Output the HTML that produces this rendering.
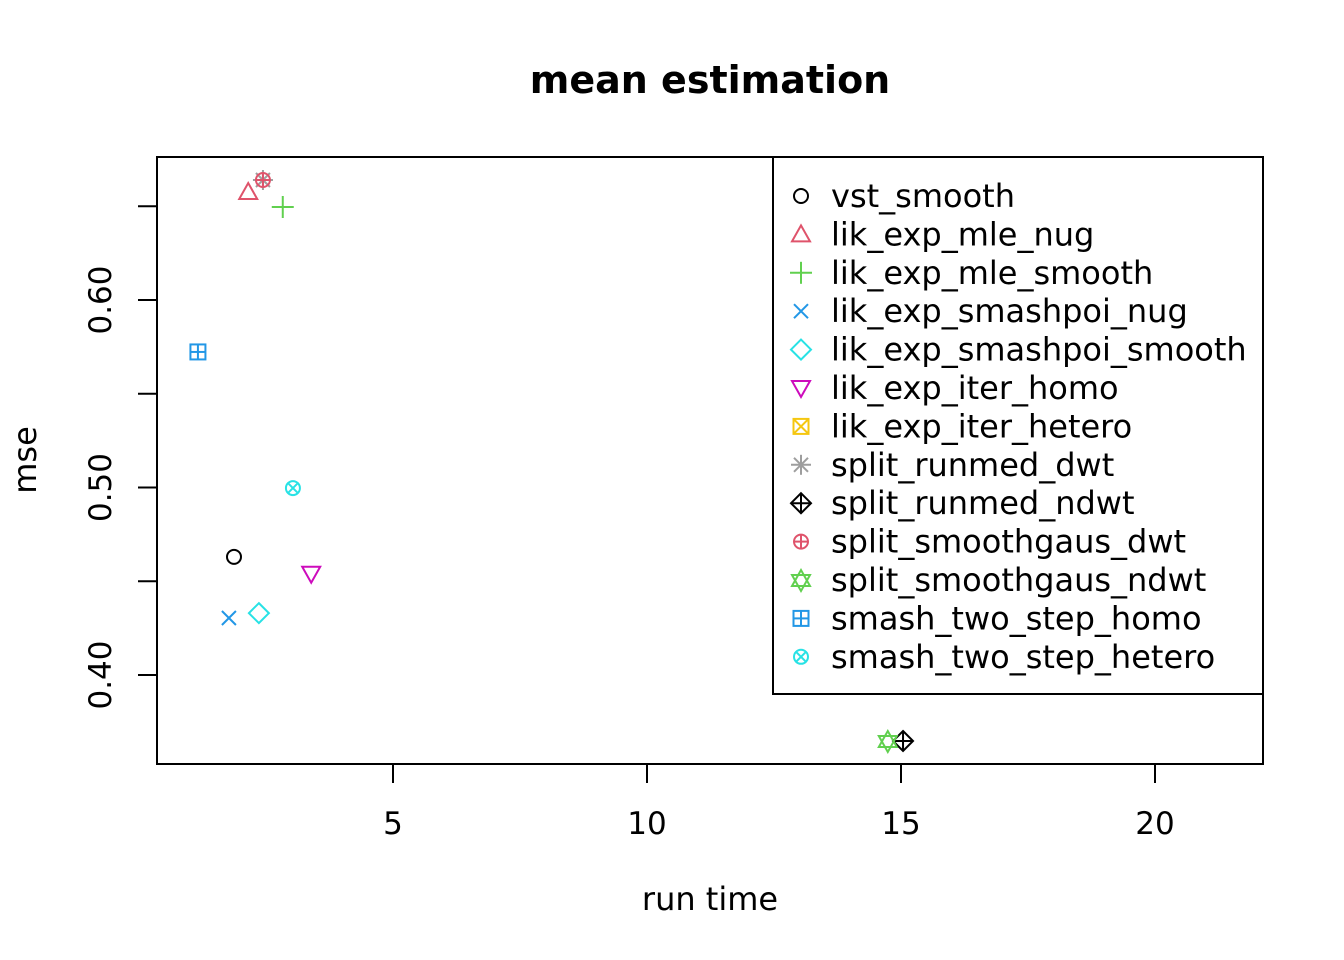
<!DOCTYPE html>
<html><head><meta charset="utf-8"><style>
body{margin:0;background:#fff}
svg{display:block;font-family:"DejaVu Sans","Liberation Sans",sans-serif}
</style></head><body>
<svg id="chart" width="1344" height="960" xmlns="http://www.w3.org/2000/svg">
<text x="710" y="93" text-anchor="middle" font-size="38" font-weight="bold">mean estimation</text>
<rect x="157" y="157" width="1106" height="607" fill="none" stroke="#000" stroke-width="2"/>
<g id="axes"></g>
<g id="pts"></g>
<g id="legend"></g>
<text x="710" y="910" text-anchor="middle" font-size="32">run time</text>
<text transform="translate(36,460) rotate(-90)" text-anchor="middle" font-size="32">mse</text>
</svg>
<script>
const methods=["vst_smooth","lik_exp_mle_nug","lik_exp_mle_smooth","lik_exp_smashpoi_nug","lik_exp_smashpoi_smooth","lik_exp_iter_homo","lik_exp_iter_hetero","split_runmed_dwt","split_runmed_ndwt","split_smoothgaus_dwt","split_smoothgaus_ndwt","smash_two_step_homo","smash_two_step_hetero"];
const runTime=[1.87,2.15,2.83,1.77,2.36,3.39,null,2.44,15.04,2.44,14.74,1.16,3.03];
const mse=[0.463,0.6576,0.6496,0.4304,0.433,0.454,null,0.664,0.3648,0.664,0.3648,0.5723,0.4997];
const colors=["#000000","#DF536B","#61D04F","#2297E6","#28E2E5","#CD0BBC","#F5C710","#9E9E9E","#000000","#DF536B","#61D04F","#2297E6","#28E2E5"];
const xTicks=[5,10,15,20];
const yTicks=[0.40,0.45,0.50,0.55,0.60,0.65];
const yLabels=["0.40","","0.50","","0.60",""];
const NS="http://www.w3.org/2000/svg";
const X=v=>139+v*50.8;
const Y=v=>300-(v-0.6)*1875;
function mk(tag,at,parent){const e=document.createElementNS(NS,tag);for(const k in at)e.setAttribute(k,at[k]);parent.appendChild(e);return e;}
const axes=document.getElementById('axes');
xTicks.forEach(t=>{
  const l=mk('line',{x1:X(t),x2:X(t),y1:764,y2:783,stroke:'#000','stroke-width':2},axes);
  
  
  const tx=mk('text',{x:X(t),y:834,'text-anchor':'middle','font-size':31},axes);tx.textContent=t;
  
  
});
yTicks.forEach((t,i)=>{
  const l=mk('line',{x1:138,x2:157,y1:Y(t),y2:Y(t),stroke:'#000','stroke-width':2},axes);
  
  
  if(yLabels[i]){const tx=mk('text',{transform:`translate(111,${Y(t)}) rotate(-90)`,'text-anchor':'middle','font-size':31},axes);tx.textContent=yLabels[i];
  
  }
});
function sym(i,cx,cy,parent){
  const g=mk('g',{fill:'none',stroke:colors[i],'stroke-width':2},parent);
  const r=7.5;
  const L=(a,b,c,d)=>mk('line',{x1:cx+a,y1:cy+b,x2:cx+c,y2:cy+d},g);
  switch(i){
    case 0:mk('circle',{cx,cy,r:7},g);break;
    case 1:mk('polygon',{points:`${cx-9},${cy+7} ${cx+9},${cy+7} ${cx},${cy-9}`},g);break;
    case 2:L(-11,0,11,0);L(0,-11,0,11);break;
    case 3:L(-7,-7,7,7);L(-7,7,7,-7);break;
    case 4:mk('polygon',{points:`${cx},${cy-10} ${cx+10},${cy} ${cx},${cy+10} ${cx-10},${cy}`},g);break;
    case 5:mk('polygon',{points:`${cx-9},${cy-7} ${cx+9},${cy-7} ${cx},${cy+9}`},g);break;
    case 6:mk('rect',{x:cx-r,y:cy-r,width:2*r,height:2*r},g);L(-r,-r,r,r);L(-r,r,r,-r);break;
    case 7:L(-10,0,10,0);L(0,-10,0,10);L(-7,-7,7,7);L(-7,7,7,-7);break;
    case 8:mk('polygon',{points:`${cx},${cy-10} ${cx+10},${cy} ${cx},${cy+10} ${cx-10},${cy}`},g);L(-10,0,10,0);L(0,-10,0,10);break;
    case 9:mk('circle',{cx,cy,r:7},g);L(-7,0,7,0);L(0,-7,0,7);break;
    case 10:mk('polygon',{points:`${cx-9},${cy+6} ${cx+9},${cy+6} ${cx},${cy-10}`},g);mk('polygon',{points:`${cx-9},${cy-5} ${cx+9},${cy-5} ${cx},${cy+11}`},g);break;
    case 11:mk('rect',{x:cx-r,y:cy-r,width:2*r,height:2*r},g);L(-r,0,r,0);L(0,-r,0,r);break;
    case 12:mk('circle',{cx,cy,r:7},g);L(-5,-5,5,5);L(-5,5,5,-5);break;
  }
  return g;
}
const pts=document.getElementById('pts');
methods.forEach((m,i)=>{
  if(runTime[i]==null||mse[i]==null)return;
  const g=sym(i,X(runTime[i]),Y(mse[i]),pts);
  
  
});
const leg=document.getElementById('legend');
const box=mk('rect',{x:773,y:157,width:490,height:537,fill:'#fff',stroke:'#000','stroke-width':2},leg);


methods.forEach((m,i)=>{
  const y=196+i*38.4;
  const g=mk('g',{},leg);
  
  
  sym(i,801,y,g);
  const t=mk('text',{x:831,y:y+11,'font-size':32},g);t.textContent=m;
});
</script>
</body></html>
